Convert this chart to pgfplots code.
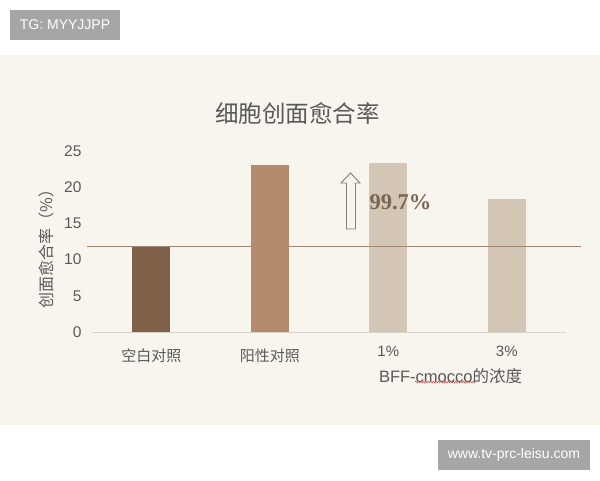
\documentclass[border=0pt]{standalone}
\usepackage{pgfplots}
\pgfplotsset{compat=1.18}
\usepackage{fontspec}
\setmainfont{Liberation Sans}
\newfontfamily\cjk{Noto Sans CJK SC}
\newfontfamily\serifb{Liberation Serif Bold}
\usetikzlibrary{decorations.pathmorphing}
\definecolor{bg}{HTML}{F8F5EF}
\definecolor{boxgray}{HTML}{A6A6A6}
\definecolor{txt}{HTML}{595959}
\definecolor{barA}{HTML}{7E6148}
\definecolor{barB}{HTML}{B48B6D}
\definecolor{barC}{HTML}{D3C6B4}
\definecolor{refc}{HTML}{A08773}
\definecolor{basec}{HTML}{D9D2C8}
\definecolor{pct}{HTML}{7A6550}
\definecolor{arrc}{HTML}{8C7D6E}
\begin{document}
\begin{tikzpicture}[x=1pt,y=1pt]
\path[use as bounding box] (0,0) rectangle (600,480);
\fill[white] (0,0) rectangle (600,480);
\fill[bg] (0,425) rectangle (600,55);
% watermark boxes
\fill[boxgray] (10,470) rectangle (120,440);
\node[white, font=\fontsize{14}{14}\selectfont] at (65,455) {TG: MYYJJPP};
\fill[boxgray] (438,40) rectangle (590,10);
\node[white, font=\fontsize{14}{14}\selectfont] at (514,25) {www.tv-prc-leisu.com};
% title
\node[txt, font=\fontsize{23.5}{23.5}\selectfont\cjk] at (297.5,366) {细胞创面愈合率};
% y label
\node[txt, rotate=90, font=\fontsize{16}{16}\selectfont\cjk] at (46,235) {创面愈合率（\%）};
\begin{axis}[
  at={(92pt,148pt)}, anchor=south west,
  scale only axis, width=474pt, height=181pt,
  xmin=-0.5, xmax=3.5, ymin=0, ymax=25,
  axis lines*=left,
  x axis line style={draw=basec, line width=1pt, -},
  y axis line style={draw=none},
  ytick={0,5,10,15,20,25},
  xtick={0,1,2,3},
  xticklabels={{\cjk 空白对照},{\cjk 阳性对照},\raisebox{5pt}{1\%},\raisebox{5pt}{3\%}},
  major tick length=0pt,
  tick style={draw=none},
  /pgf/number format/assume math mode=true,
  yticklabel style={font=\fontsize{15.5}{15.5}\selectfont, text=txt, xshift=-7pt},
  xticklabel style={font=\fontsize{15}{15}\selectfont, text=txt, anchor=base, yshift=-29pt},
  clip=false,
]
\addplot[ybar, bar width=38pt, bar shift=0pt, fill=barA, draw=none] coordinates {(0,11.8)};
\addplot[ybar, bar width=38pt, bar shift=0pt, fill=barC, draw=none] coordinates {(2,23.4)};
\addplot[ybar, bar width=38pt, bar shift=0pt, fill=barC, draw=none] coordinates {(3,18.4)};
\addplot[refc, line width=1pt, no marks] coordinates {(-0.54,11.8) (3.63,11.8)};
\addplot[ybar, bar width=38pt, bar shift=0pt, fill=barB, draw=none] coordinates {(1,23.1)};
\end{axis}
% arrow annotation
\draw[arrc, fill=bg, line width=0.9pt, line join=miter]
  (350.5,307) -- (360,297) -- (355.5,297) -- (355.5,251) -- (346.5,251) -- (346.5,297) -- (341,297) -- cycle;
\node[pct, font=\fontsize{22.5}{22.5}\selectfont\serifb] at (400.5,278) {99.7\%};
% x label
\node[txt, font=\fontsize{16.5}{16.5}\selectfont] (xl) at (450.5,103.5) {BFF-cmocco{\cjk 的浓度}};
\draw[red!80, line width=0.5pt, decorate, decoration={snake, amplitude=0.7pt, segment length=2.5pt}] (415,98) -- (475,98);
\end{tikzpicture}
\end{document}
